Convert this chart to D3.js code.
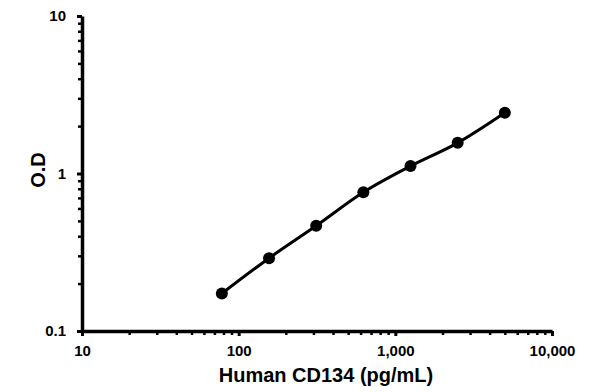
<!DOCTYPE html>
<html><head><meta charset="utf-8">
<script src="https://cdn.jsdelivr.net/npm/d3@7"></script>
<style>body{margin:0;background:#fff}svg{display:block}text{font-family:"Liberation Sans",Arial,sans-serif;font-weight:bold;fill:#000}</style>
</head><body><svg id="c" width="596" height="392"></svg>
<script>
const concentrations = [78.125, 156.25, 312.5, 625, 1250, 2500, 5000];
const odValues = [0.173, 0.29, 0.466, 0.76, 1.115, 1.565, 2.43];
const xTickValues = [10, 100, 1000, 10000];
const xTickLabels = ["10", "100", "1,000", "10,000"];
const yTickValues = [0.1, 1, 10];
const yTickLabels = ["0.1", "1", "10"];
const xTitle = "Human CD134 (pg/mL)";
const yTitle = "O.D";

const svg = d3.select("#c");
const x = d3.scaleLog().domain([10, 10000]).range([82, 552]);
const y = d3.scaleLog().domain([0.1, 10]).range([331, 16]);

function minors(lo, hi){const a=[];for(let d=lo;d<hi;d*=10){for(let k=2;k<=9;k++)a.push(d*k);}return a;}

// minor ticks
svg.append("g").attr("transform","translate(0,331)")
  .call(d3.axisBottom(x).tickValues(minors(10,10000)).tickFormat("").tickSize(4).tickSizeOuter(0))
  .call(g=>{g.select(".domain").remove();g.selectAll("line").attr("stroke","#000").attr("stroke-width",2.5);});
svg.append("g").attr("transform","translate(82,0)")
  .call(d3.axisLeft(y).tickValues(minors(0.1,10)).tickFormat("").tickSize(4).tickSizeOuter(0))
  .call(g=>{g.select(".domain").remove();g.selectAll("line").attr("stroke","#000").attr("stroke-width",2.5);});

// major axes
const xa = svg.append("g").attr("transform","translate(0,331)")
  .call(d3.axisBottom(x).tickValues(xTickValues).tickFormat((d,i)=>xTickLabels[i]).tickSize(5).tickSizeOuter(0).tickPadding(9));
xa.select(".domain").attr("stroke","#000").attr("stroke-width",3.5);
xa.selectAll("line").attr("stroke","#000").attr("stroke-width",3);
xa.selectAll("text").attr("font-size",15).attr("fill","#000");

const ya = svg.append("g").attr("transform","translate(82,0)")
  .call(d3.axisLeft(y).tickValues(yTickValues).tickFormat((d,i)=>yTickLabels[i]).tickSize(5).tickSizeOuter(0).tickPadding(11));
ya.select(".domain").attr("stroke","#000").attr("stroke-width",3.5);
ya.selectAll("line").attr("stroke","#000").attr("stroke-width",3);
ya.selectAll("text").attr("font-size",15).attr("fill","#000");

// titles
svg.append("text").attr("x",326).attr("y",382).attr("text-anchor","middle").attr("font-size",20).text(xTitle);
svg.append("text").attr("transform","translate(45,170) rotate(-90)").attr("text-anchor","middle").attr("font-size",20).text(yTitle);

// data
const pts = concentrations.map((c,i)=>[c, odValues[i]]);
svg.append("path").datum(pts)
  .attr("d", d3.line().x(d=>x(d[0])).y(d=>y(d[1])).curve(d3.curveMonotoneX))
  .attr("fill","none").attr("stroke","#000").attr("stroke-width",3);
svg.selectAll("circle").data(pts).enter().append("circle")
  .attr("cx",d=>x(d[0])).attr("cy",d=>y(d[1])).attr("r",6).attr("fill","#000");
</script></body></html>
